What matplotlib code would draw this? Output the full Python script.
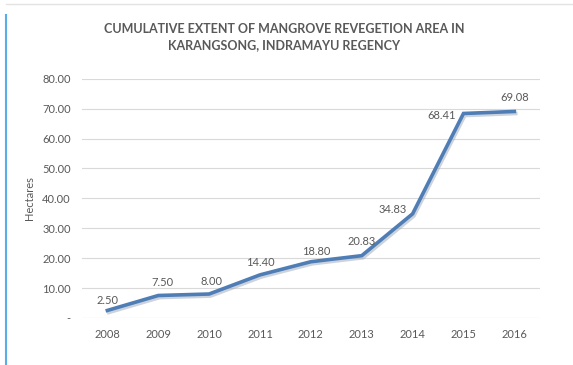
import matplotlib.pyplot as plt
import matplotlib.patheffects as pe
from matplotlib.lines import Line2D

# data
years = ['2008', '2009', '2010', '2011', '2012', '2013', '2014', '2015', '2016']
hectares = [2.50, 7.50, 8.00, 14.40, 18.80, 20.83, 34.83, 68.41, 69.08]
yticks = [0, 10, 20, 30, 40, 50, 60, 70, 80]
ytick_labels = ['-', '10.00', '20.00', '30.00', '40.00', '50.00', '60.00', '70.00', '80.00']

# label offsets in pixels (dx, dy, ha)
offsets = [(0, 10, 'center'), (4, 13, 'center'), (2, 13, 'center'), (0, 12, 'center'),
           (5, 10, 'center'), (0, 14, 'center'), (-6, 4, 'right'), (-8, -2, 'right'),
           (0, 14, 'center')]

gray = '#595959'
blue = '#4F7DB5'

plt.rcParams['font.family'] = ['Lato', 'DejaVu Sans']

fig = plt.figure(figsize=(5.73, 3.65), dpi=100)
ax = fig.add_axes([0.143, 0.129, 0.799, 0.655])

x = list(range(len(years)))
ax.plot(x, hectares, color=blue, linewidth=2.6, solid_joinstyle='miter',
        path_effects=[pe.SimpleLineShadow(offset=(1, -1.5), shadow_color='#9aa9bd', alpha=0.5),
                      pe.Normal()], zorder=3)

for xi, v, (dx, dy, ha) in zip(x, hectares, offsets):
    ax.annotate(f'{v:.2f}', (xi, v), xytext=(dx, dy), textcoords='offset pixels',
                ha=ha, va='center', fontsize=8, color=gray)

ax.set_xlim(-0.5, len(years) - 0.5)
ax.set_ylim(0, 80)
ax.set_yticks(yticks)
ax.set_yticklabels(ytick_labels)
ax.set_xticks(x)
ax.set_xticklabels(years)
ax.tick_params(length=0, labelsize=8, labelcolor=gray, pad=8)
ax.grid(axis='y', color='#d9d9d9', linewidth=0.8)
ax.set_axisbelow(True)
for s in ax.spines.values():
    s.set_visible(False)

ax.set_ylabel('Hectares', fontsize=8, color=gray, labelpad=5)

fig.text(0.496, 0.899, 'CUMULATIVE EXTENT OF MANGROVE REVEGETION AREA IN\nKARANGSONG, INDRAMAYU REGENCY',
         ha='center', va='center', fontsize=9, fontweight='bold', color=gray, linespacing=1.45)

# frame lines of the original screenshot
fig.add_artist(Line2D([0.011, 0.011], [0.0, 0.96], color='#5aaee6', linewidth=1.5))
fig.add_artist(Line2D([0.011, 1.0], [0.988, 0.988], color='#e3e3e3', linewidth=1.0))

plt.savefig('out.png', dpi=100)
